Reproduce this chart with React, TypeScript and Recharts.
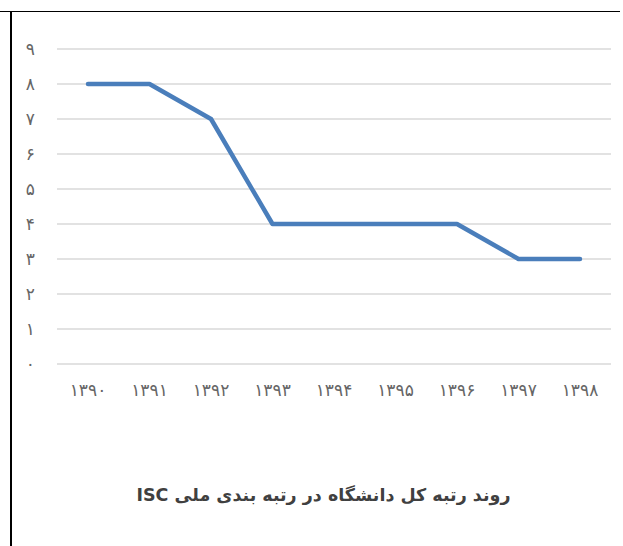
import { LineChart, Line, XAxis, YAxis, CartesianGrid } from 'recharts'

const years = ['۱۳۹۰', '۱۳۹۱', '۱۳۹۲', '۱۳۹۳', '۱۳۹۴', '۱۳۹۵', '۱۳۹۶', '۱۳۹۷', '۱۳۹۸']
const ranks = [8, 8, 7, 4, 4, 4, 4, 3, 3]
const yTicks = [0, 1, 2, 3, 4, 5, 6, 7, 8, 9]
const title = 'روند رتبه کل دانشگاه در رتبه بندی ملی ISC'

const FA_DIGITS = '۰۱۲۳۴۵۶۷۸۹'
const toFa = (v: number) => String(v).replace(/\d/g, d => FA_DIGITS[+d])

const data = years.map((y, i) => ({ year: y, rank: ranks[i] }))

const FONT = '"DejaVu Sans", sans-serif'

export default function App() {
  return (
    <div style={{ position: 'absolute', left: 0, top: 0, width: 623, height: 546, background: '#fff', fontFamily: FONT }}>
      {/* table borders */}
      <div style={{ position: 'absolute', left: 0, top: 11, width: 620, height: 1, background: '#000' }} />
      <div style={{ position: 'absolute', left: 10, top: 11, width: 2, height: 535, background: '#000' }} />

      <div style={{ position: 'absolute', left: 0, top: 0 }}>
        <LineChart width={623} height={420} data={data} margin={{ top: 49, right: 12, left: 10, bottom: 16 }}>
          <CartesianGrid stroke="#d9d9d9" strokeWidth={1.5} vertical={false} />
          <XAxis dataKey="year" axisLine={false} tickLine={false} tickSize={0} tickMargin={20} height={40}
            padding={{ left: 31, right: 31 }}
            tick={{ fill: '#666', fontSize: 17, fontFamily: FONT }} interval={0} />
          <YAxis domain={[0, 9]} ticks={yTicks} axisLine={false} tickLine={false} tickSize={0} tickMargin={22} width={47}
            tickFormatter={toFa} tick={{ fill: '#666', fontSize: 17, fontFamily: FONT }} />
          <Line type="linear" dataKey="rank" stroke="#4a7ebb" strokeWidth={4.5} dot={false}
            strokeLinecap="round" strokeLinejoin="round" isAnimationActive={false} />
        </LineChart>
      </div>

      <div style={{ position: 'absolute', left: 12, width: 623, top: 485, textAlign: 'center', direction: 'rtl',
        fontWeight: 'bold', fontSize: 17.5, color: '#404040' }}>
        {title}
      </div>
    </div>
  )
}
